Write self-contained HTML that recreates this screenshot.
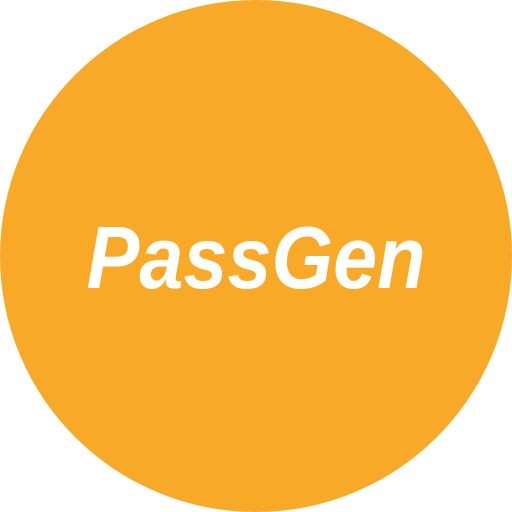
<!DOCTYPE html>
<html>
<head>
<style>
html,body{margin:0;padding:0;background:#fff;width:512px;height:512px;overflow:hidden;}
.logo{position:absolute;left:0;top:0;width:512px;height:512px;border-radius:50%;background:#F8A928;}
.txt{position:absolute;left:0;width:512px;top:208px;text-align:center;color:#fff;
font-family:"Liberation Sans",sans-serif;font-weight:bold;font-style:italic;font-size:88px;line-height:100px;
transform:scaleX(0.9);transform-origin:256px 50px;}
</style>
</head>
<body>
<div class="logo"></div>
<div class="txt">PassGen</div>
</body>
</html>
